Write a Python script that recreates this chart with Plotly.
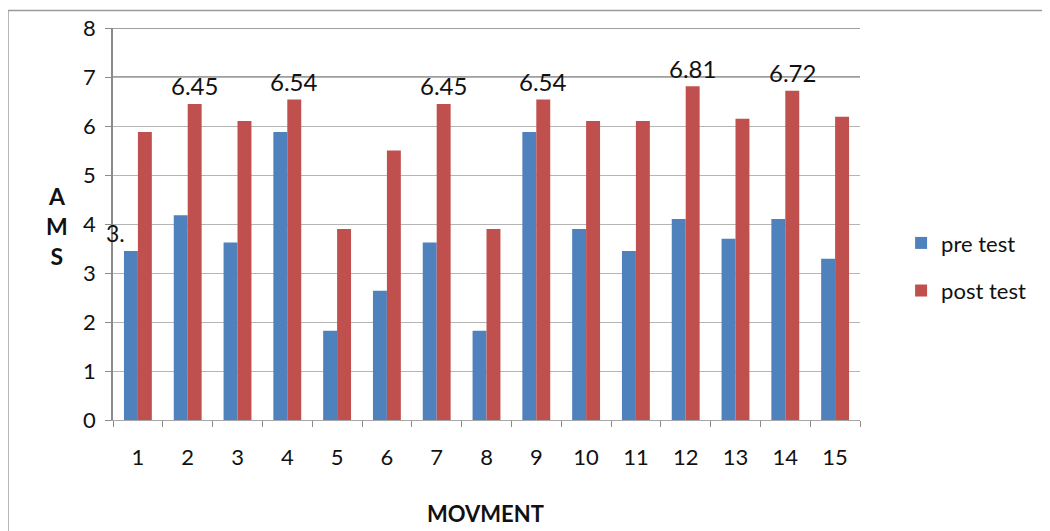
import plotly.graph_objects as go

categories = [str(i) for i in range(1, 16)]
pre_test = [3.45, 4.18, 3.62, 5.88, 1.82, 2.64, 3.62, 1.82, 5.88, 3.90, 3.45, 4.10, 3.70, 4.10, 3.29]
post_test = [5.88, 6.45, 6.10, 6.54, 3.90, 5.50, 6.45, 3.90, 6.54, 6.10, 6.10, 6.81, 6.15, 6.72, 6.19]
labelled_post = [2, 4, 7, 9, 12, 14]
y_ticks = [0, 1, 2, 3, 4, 5, 6, 7, 8]

FONT = "Lato, Carlito, Open Sans, Arial"
BLUE = "#4F81BD"
RED = "#C0504D"
TXT = "#111111"

fig = go.Figure()
fig.add_trace(go.Bar(x=categories, y=pre_test, name="pre test", marker_color=BLUE,
                     marker_line_width=0, legendgroup="a"))
fig.add_trace(go.Bar(x=categories, y=post_test, name="post test", marker_color=RED,
                     marker_line_width=0, legendgroup="b"))

annotations = []
for c in labelled_post:
    annotations.append(dict(x=c - 1, y=post_test[c - 1], xref="x", yref="y",
                            text=f"{post_test[c - 1]:.2f}", showarrow=False,
                            xanchor="center", yanchor="middle",
                            xshift=7, yshift=18, font=dict(family=FONT, size=24, color=TXT)))
# truncated label left of the first pre-test bar
annotations.append(dict(x=0, y=pre_test[0], xref="x", yref="y", text="3.",
                        showarrow=False, xanchor="left", yanchor="middle",
                        xshift=-34, yshift=18,
                        font=dict(family=FONT, size=23, color=TXT)))
annotations.append(dict(x=-0.075, y=0.496, xref="paper", yref="paper",
                        xanchor="center", yanchor="middle",
                        text="<b>A<br>M<br>S</b>", showarrow=False,
                        font=dict(family=FONT, size=23, color=TXT)))
annotations.append(dict(x=0.498, y=-0.2385, xref="paper", yref="paper",
                        xanchor="center", yanchor="middle",
                        text="<b>MOVMENT</b>", showarrow=False,
                        font=dict(family=FONT, size=22, color=TXT)))

shapes = [
    dict(type="rect", xref="paper", yref="paper", x0=-0.1406, x1=1.3, y0=-0.4, y1=1.0446,
         line=dict(color="#9a9a9a", width=1.5), fillcolor="rgba(0,0,0,0)", layer="below"),
]
for yv in (7, 8):
    shapes.append(dict(type="line", xref="paper", yref="y", x0=0, x1=1, y0=yv, y1=yv,
                       line=dict(color="#7f7f7f", width=1.5), layer="below"))

fig.update_layout(
    width=1050, height=531,
    margin=dict(l=105, r=198, t=20, b=119, autoexpand=False),
    paper_bgcolor="white", plot_bgcolor="white",
    barmode="group", bargap=0.44, bargroupgap=0,
    font=dict(family=FONT, size=22, color=TXT),
    legend=dict(x=1.055, y=0.39, xanchor="left", yanchor="middle",
                font=dict(family=FONT, size=22, color=TXT),
                tracegroupgap=16, itemwidth=30, bgcolor="rgba(0,0,0,0)"),
    annotations=annotations,
    shapes=shapes,
)
fig.update_xaxes(type="category", range=[-0.5, len(categories) - 0.5], autorange=False,
                 showline=True, linecolor="#a6a6a6", linewidth=1,
                 ticks="outside", tickson="boundaries", ticklen=6, tickcolor="#8a8a8a",
                 ticklabelstandoff=18, automargin=False,
                 showgrid=False, tickfont=dict(family=FONT, size=22, color=TXT))
fig.update_yaxes(range=[0, 8], autorange=False, tickvals=y_ticks, showline=True,
                 linecolor="#8a8a8a",
                 linewidth=1.5, ticks="outside", ticklen=6, tickcolor="#8a8a8a",
                 ticklabelstandoff=5, automargin=False,
                 showgrid=True, gridcolor="#b5b5b5", gridwidth=1, zeroline=False,
                 tickfont=dict(family=FONT, size=22, color=TXT))

fig.write_html("out.html")
